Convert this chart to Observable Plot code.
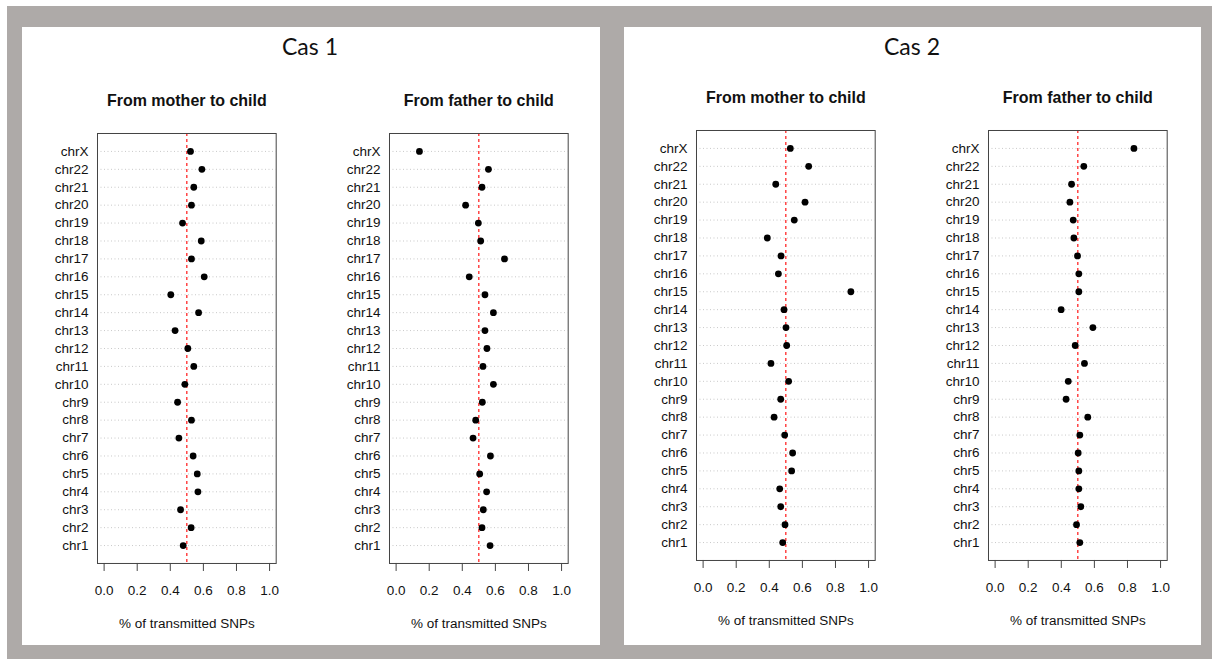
<!DOCTYPE html>
<html>
<head>
<meta charset="utf-8">
<script src="https://cdn.jsdelivr.net/npm/d3@7"></script>
<script src="https://cdn.jsdelivr.net/npm/@observablehq/plot@0.6"></script>
<style>
  html, body { margin: 0; padding: 0; background: #ffffff; }
  #page { position: relative; width: 1212px; height: 659px; overflow: hidden; background: #ffffff; }
  .bg { position: absolute; left: 7px; top: 6px; width: 1205px; height: 653px; background: #aeaaa8; }
  .panel { position: absolute; background: #ffffff; }
  .cas { position: absolute; font-family: Lato, "Open Sans", sans-serif; font-size: 23px; color: #111; text-align: center; width: 200px; line-height: 23px; }
  .chart { position: absolute; }
</style>
</head>
<body>
<div id="page">
  <div class="bg"></div>
  <div class="panel" style="left:22px; top:27px; width:578px; height:618px;"></div>
  <div class="panel" style="left:624px; top:27px; width:577px; height:618px;"></div>
  <div class="cas" style="left:210px; top:35px;">Cas 1</div>
  <div class="cas" style="left:812px; top:35px;">Cas 2</div>
</div>
<script>
// ---------- data ----------
const chromosomes = ["chr1","chr2","chr3","chr4","chr5","chr6","chr7","chr8","chr9","chr10","chr11",
  "chr12","chr13","chr14","chr15","chr16","chr17","chr18","chr19","chr20","chr21","chr22","chrX"];

const cas1Mother = [0.478,0.526,0.462,0.567,0.563,0.538,0.452,0.528,0.444,0.488,0.542,
  0.506,0.429,0.571,0.403,0.605,0.528,0.587,0.474,0.528,0.542,0.591,0.522];
const cas1Father = [0.568,0.519,0.527,0.547,0.505,0.570,0.465,0.481,0.521,0.588,0.525,
  0.549,0.537,0.588,0.537,0.442,0.655,0.511,0.497,0.420,0.519,0.558,0.141];
const cas2Mother = [0.481,0.495,0.469,0.463,0.535,0.541,0.493,0.429,0.469,0.517,0.410,
  0.505,0.501,0.489,0.893,0.455,0.471,0.388,0.551,0.616,0.439,0.638,0.527];
const cas2Father = [0.512,0.492,0.518,0.506,0.506,0.502,0.512,0.560,0.429,0.442,0.540,
  0.484,0.591,0.399,0.506,0.506,0.498,0.476,0.472,0.452,0.462,0.536,0.839];

const xTicks = [0, 0.2, 0.4, 0.6, 0.8, 1.0];
const reference = [0.5];
const titles = ["From mother to child", "From father to child"];
const xLabel = "% of transmitted SNPs";

// ---------- charts ----------
const mL = 70, mT = 50, mR = 10, mB = 80;
const frameW = 178.7, frameH = 430;

function dotChart(values, title) {
  const rows = chromosomes.map((chr, i) => ({chr, value: values[i]}));
  return Plot.plot({
    width: mL + frameW + mR,
    height: mT + frameH + mB,
    marginLeft: mL, marginTop: mT, marginRight: mR, marginBottom: mB,
    style: {fontFamily: "'Liberation Sans', Arial, Helvetica, sans-serif", fontSize: "13.5px", color: "#111", background: "transparent", overflow: "visible"},
    x: {domain: [-0.04, 1.04]},
    y: {type: "point", domain: chromosomes.slice().reverse(), padding: 1, round: false},
    marks: [
      Plot.ruleY(rows, {y: "chr", stroke: "#c8c8c8", strokeDasharray: "1,2.5", strokeWidth: 1}),
      Plot.ruleX(reference, {x: d => d, stroke: "#ff0000", strokeDasharray: "3,3", strokeWidth: 1.1}),
      Plot.dot(rows, {x: "value", y: "chr", r: 3.4, fill: "#000", stroke: null}),
      Plot.frame({stroke: "#444", strokeWidth: 1}),
      Plot.axisX({ticks: xTicks, tickFormat: d3.format(".1f"), tickSize: 8, tickPadding: 14, stroke: "#444", fill: "#111", fontSize: 13.5, label: null}),
      Plot.axisY({tickSize: 0, tickPadding: 9, fill: "#111", fontSize: 13.5, label: null}),
      Plot.text([title], {text: d => d, frameAnchor: "top", dy: -39, fontWeight: "bold", fontSize: 16, fill: "#111"}),
      Plot.text([xLabel], {text: d => d, frameAnchor: "bottom", dy: 64.5, fontSize: 13.5, fill: "#111"})
    ]
  });
}

const specs = [
  {values: cas1Mother, title: titles[0], left: 97,    top: 132.7},
  {values: cas1Father, title: titles[1], left: 388.7, top: 132.7},
  {values: cas2Mother, title: titles[0], left: 695.7, top: 130.3},
  {values: cas2Father, title: titles[1], left: 988.3, top: 130.3}
];

const page = document.getElementById("page");
for (const s of specs) {
  const chart = dotChart(s.values, s.title);
  const wrap = document.createElement("div");
  wrap.className = "chart";
  wrap.style.left = (s.left - mL) + "px";
  wrap.style.top = (s.top - mT) + "px";
  wrap.appendChild(chart);
  page.appendChild(wrap);
}
</script>
</body>
</html>
